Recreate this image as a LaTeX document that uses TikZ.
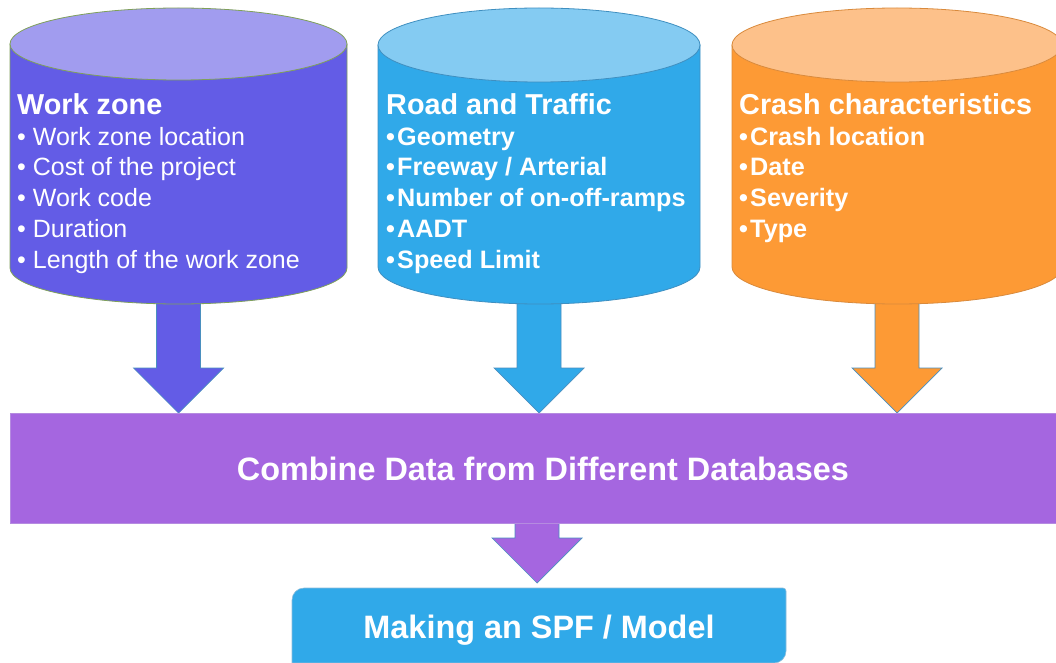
\documentclass[tikz,border=0pt]{standalone}
\usepackage{fontspec}
\setmainfont{Liberation Sans}
\usetikzlibrary{calc}
\definecolor{wzbody}{HTML}{635CE6}
\definecolor{wztop}{HTML}{A19CEF}
\definecolor{wzline}{HTML}{7FA05A}
\definecolor{rtbody}{HTML}{30A9E9}
\definecolor{rttop}{HTML}{84CBF2}
\definecolor{rtline}{HTML}{3F8FC0}
\definecolor{crbody}{HTML}{FD9A35}
\definecolor{crtop}{HTML}{FDC18A}
\definecolor{crline}{HTML}{D98A3C}
\definecolor{cbbody}{HTML}{A566E0}
\definecolor{cbline}{HTML}{B58BE0}
\definecolor{arline}{HTML}{4A8FBF}
\tikzset{
  txt/.style={text=white, inner sep=0pt},
  cylbody/.style={line width=0.8pt},
  blockarr/.style={line width=0.7pt, draw=arline, line join=miter},
}
\newcommand\bul{•\kern2.2pt}
% cylinder: #1 cx, #2 half width, #3 top ellipse cy, #4 bottom cy, #5 ry, #6 body, #7 top, #8 line
\newcommand\drawcyl[8]{%
  \filldraw[cylbody, fill=#6, draw=#8]
    (#1-#2,#3) -- (#1-#2,#4) arc[start angle=180, end angle=360, x radius=#2pt, y radius=#5pt]
    -- (#1+#2,#3) -- cycle;
  \filldraw[cylbody, fill=#7, draw=#8] (#1,#3) ellipse[x radius=#2pt, y radius=#5pt];
}
% block arrow from node/coordinate #1 down to #2, colour #3
\newcommand\blockarrow[3]{%
  \filldraw[blockarr, fill=#3] let \p1=(#1), \p2=(#2) in
    (\x1-22pt,\y1) -- (\x1-22pt,\y2+45pt) -- (\x1-45pt,\y2+45pt) -- (\x2,\y2)
    -- (\x1+45pt,\y2+45pt) -- (\x1+22pt,\y2+45pt) -- (\x1+22pt,\y1) -- cycle;
}
\begin{document}
\begin{tikzpicture}[x=1pt,y=1pt]
\useasboundingbox (0,0) rectangle (1056,-663);
\clip (0,0) rectangle (1056,-663);

\coordinate (wzb) at (178.5,-300);
\coordinate (rtb) at (539,-300);
\coordinate (crb) at (897,-300);
\coordinate (combtop1) at (178.5,-413);
\coordinate (combtop2) at (539,-413);
\coordinate (combtop3) at (897,-413);
\coordinate (combbot) at (537,-520);
\coordinate (modeltop) at (537,-583);

% arrows (drawn first so the shapes cover their tails)
\blockarrow{wzb}{combtop1}{wzbody}
\blockarrow{rtb}{combtop2}{rtbody}
\blockarrow{crb}{combtop3}{crbody}
\blockarrow{combbot}{modeltop}{cbbody}

% cylinders
\drawcyl{178.5}{168.5}{-44}{-268}{36}{wzbody}{wztop}{wzline}
\drawcyl{539}{161}{-45}{-267}{37}{rtbody}{rttop}{rtline}
\drawcyl{897}{165}{-45}{-267}{37}{crbody}{crtop}{crline}

% texts
\node[txt, anchor=base west] (wztext) at (17,-114.5) {\parbox[t]{330pt}{\fontsize{25}{30.7}\selectfont
  {\fontsize{28.8}{30.7}\selectfont\bfseries Work zone}\\
  • Work zone location\\
  • Cost of the project\\
  • Work code\\
  • Duration\\
  • Length of the work zone}};
\node[txt, anchor=base west] (rttext) at (386,-114.5) {\parbox[t]{320pt}{\fontsize{25.2}{30.7}\selectfont\bfseries
  {\fontsize{28.8}{30.7}\selectfont Road and Traffic}\\
  \bul Geometry\\
  \bul Freeway / Arterial\\
  \bul Number of on-off-ramps\\
  \bul AADT\\
  \bul Speed Limit}};
\node[txt, anchor=base west] (crtext) at (739,-114.5) {\parbox[t]{320pt}{\fontsize{25.2}{30.7}\selectfont\bfseries
  {\fontsize{28.8}{30.7}\selectfont Crash characteristics}\\
  \bul Crash location\\
  \bul Date\\
  \bul Severity\\
  \bul Type}};

% combine box
\filldraw[fill=cbbody, draw=cbline, line width=0.8pt] (10,-413) rectangle (1070,-523);
\node[txt, font=\fontsize{32.4}{36}\selectfont\bfseries] (comb) at (543,-469) {Combine Data from Different Databases};

% model box
\filldraw[fill=rtbody, draw=rtline!60, line width=0.6pt]
  (292,-663) [rounded corners=12pt] -- (292,-588) [rounded corners=3pt] -- (786,-588)
  [rounded corners=12pt] -- (786,-663) [sharp corners] -- cycle;
\node[txt, font=\fontsize{32.4}{36}\selectfont\bfseries] (model) at (539,-630) {Making an SPF / Model};
\end{tikzpicture}
\end{document}
